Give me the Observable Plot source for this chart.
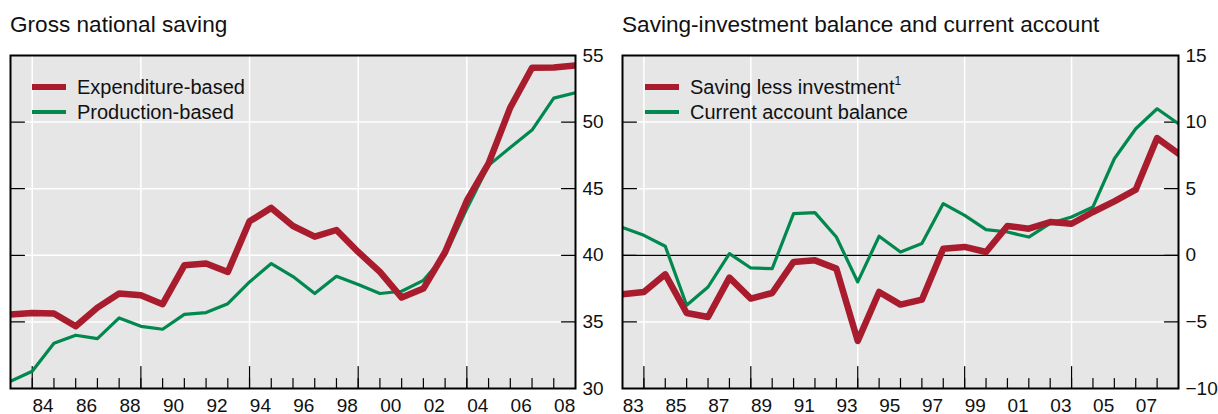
<!DOCTYPE html>
<html><head><meta charset="utf-8">
<script src="https://cdn.jsdelivr.net/npm/d3@7"></script>
<script src="https://cdn.jsdelivr.net/npm/@observablehq/plot@0.6"></script>
<style>
body{margin:0;background:#fff;font-family:"Liberation Sans",Arial,sans-serif;}
#wrap{position:relative;width:1218px;height:414px;overflow:hidden}
.panel{position:absolute;top:0;height:414px}
.title{height:44px;box-sizing:border-box;padding-top:14px;font-size:22.6px;line-height:22.6px;color:#111;white-space:nowrap}
.row{position:absolute;display:flex;align-items:center;height:20px;line-height:20px;font-size:20px;color:#111;white-space:nowrap}
.sw{width:34px;margin-right:11px}
sup{font-size:12px;line-height:0;vertical-align:9px}
svg{display:block}
</style></head>
<body>
<div id="wrap"></div>
<script>
// Annual data, 1982–2008 (plotted at year end)
const years = [1982,1983,1984,1985,1986,1987,1988,1989,1990,1991,1992,1993,1994,1995,1996,1997,1998,1999,2000,2001,2002,2003,2004,2005,2006,2007,2008];

// Left panel: Gross national saving (% of GDP)
const expenditureBased = [35.55,35.67,35.63,34.67,36.07,37.13,37.0,36.33,39.25,39.38,38.75,42.55,43.56,42.2,41.4,41.9,40.25,38.75,36.83,37.5,40.25,44.1,46.9,51.1,54.08,54.1,54.25];
const productionBased  = [30.55,31.3,33.4,34.0,33.75,35.3,34.67,34.45,35.57,35.7,36.37,38.0,39.38,38.4,37.13,38.42,37.8,37.13,37.3,38.12,40.0,43.5,46.75,48.1,49.4,51.8,52.2];

// Right panel: Saving-investment balance and current account (% of GDP)
const savingLessInvestment = [-2.93,-2.75,-1.43,-4.33,-4.63,-1.68,-3.25,-2.83,-0.5,-0.38,-1.0,-6.43,-2.75,-3.7,-3.33,0.5,0.63,0.25,2.2,2.0,2.5,2.37,3.25,4.05,4.93,8.8,7.63];
const currentAccount       = [2.08,1.5,0.68,-3.75,-2.38,0.13,-0.95,-1.0,3.13,3.2,1.37,-2.0,1.43,0.25,0.88,3.88,3.0,1.93,1.75,1.37,2.4,2.88,3.63,7.25,9.5,11.0,9.88];

// Axes
const xDomain = [1983, 2009];
const yearTicks = [1984,1985,1986,1987,1988,1989,1990,1991,1992,1993,1994,1995,1996,1997,1998,1999,2000,2001,2002,2003,2004,2005,2006,2007,2008];
const majorYearTicks = [1984,1989,1994,1999,2004];
const leftLabelYears = [1984,1986,1988,1990,1992,1994,1996,1998,2000,2002,2004,2006,2008];
const rightLabelYears = [1983,1985,1987,1989,1991,1993,1995,1997,1999,2001,2003,2005,2007];
const leftYDomain = [30, 55];
const leftYLabels = [30,35,40,45,50,55];
const leftYInner = [35,40,45,50];
const rightYDomain = [-10, 15];
const rightYLabels = [-10,-5,0,5,10,15];
const rightYInner = [-5,0,5,10];

const RED = "#a81c2e", GREEN = "#00884f";

const toRows = arr => years.map((y, i) => ({year: y, v: arr[i]}));
const tickShape = {draw(ctx, l) { ctx.moveTo(0, 0); ctx.lineTo(0, -l); }};
const fmt = d => d < 0 ? "\u2212" + Math.abs(d) : String(d);

function makePanel({series, yDomain, yLabels, yInner, labelYears, width, ml, mr, zero}) {
  const marks = [
    Plot.frame({fill: "#e6e6e6", stroke: null}),
    Plot.ruleX(majorYearTicks, {x: d => d, stroke: "white", strokeWidth: 1.5}),
    Plot.ruleY(yInner, {y: d => d, stroke: "white", strokeWidth: 1.5}),
  ];
  if (zero) marks.push(Plot.ruleY([0], {y: d => d, stroke: "black", strokeWidth: 1.2}));
  marks.push(
    Plot.vector(yearTicks, {x: d => d, frameAnchor: "bottom", length: 10, rotate: 0, anchor: "start", shape: tickShape, stroke: "black", strokeWidth: 1.2}),
    Plot.vector(majorYearTicks, {x: d => d, frameAnchor: "bottom", length: 22, rotate: 0, anchor: "start", shape: tickShape, stroke: "black", strokeWidth: 1.2}),
    Plot.vector(yInner, {y: d => d, frameAnchor: "left", length: 14, rotate: 90, anchor: "start", shape: tickShape, stroke: "black", strokeWidth: 1.2}),
    Plot.vector(yInner, {y: d => d, frameAnchor: "right", length: 14, rotate: -90, anchor: "start", shape: tickShape, stroke: "black", strokeWidth: 1.2}),
    Plot.line(toRows(series[1]), {x: d => d.year + 1, y: "v", stroke: GREEN, strokeWidth: 3.2, clip: true}),
    Plot.line(toRows(series[0]), {x: d => d.year + 1, y: "v", stroke: RED, strokeWidth: 6.5, clip: true}),
    Plot.frame({stroke: "black", strokeWidth: 2}),
    Plot.text(yLabels, {y: d => d, text: fmt, frameAnchor: "right", textAnchor: "start", dx: 7, fill: "#111"}),
    Plot.text(labelYears, {x: d => d + 0.5, text: d => String(d).slice(2), frameAnchor: "bottom", lineAnchor: "top", dy: 10, fill: "#111"})
  );
  return Plot.plot({
    width, height: 370, marginTop: 11, marginBottom: 26, marginLeft: ml, marginRight: mr,
    x: {domain: xDomain, axis: null},
    y: {domain: yDomain, axis: null},
    style: {fontFamily: "Liberation Sans, Arial, sans-serif", fontSize: "19px", background: "transparent", overflow: "visible"},
    marks
  });
}

function addPanel({left, width, titleLeft, title, legend, plot}) {
  const p = document.createElement("div");
  p.className = "panel";
  p.style.left = left + "px";
  p.style.width = width + "px";
  const t = document.createElement("div");
  t.className = "title";
  t.style.paddingLeft = titleLeft + "px";
  t.textContent = title;
  p.appendChild(t);
  p.appendChild(plot);
  legend.forEach(item => {
    const r = document.createElement("div");
    r.className = "row";
    r.style.left = item.x + "px";
    r.style.top = (item.cy - 10) + "px";
    const sw = document.createElement("div");
    sw.className = "sw";
    sw.style.height = item.h + "px";
    sw.style.background = item.color;
    const tx = document.createElement("span");
    tx.innerHTML = item.label;
    r.appendChild(sw); r.appendChild(tx);
    p.appendChild(r);
  });
  document.getElementById("wrap").appendChild(p);
}

addPanel({
  left: 0, width: 610, titleLeft: 10, title: "Gross national saving",
  legend: [
    {x: 32, cy: 87, h: 6.5, color: RED, label: "Expenditure-based"},
    {x: 32, cy: 112, h: 3.2, color: GREEN, label: "Production-based"}
  ],
  plot: makePanel({series: [expenditureBased, productionBased], yDomain: leftYDomain, yLabels: leftYLabels, yInner: leftYInner, labelYears: leftLabelYears, width: 610, ml: 10, mr: 35, zero: false})
});
addPanel({
  left: 610, width: 608, titleLeft: 12, title: "Saving-investment balance and current account",
  legend: [
    {x: 35, cy: 87, h: 6.5, color: RED, label: "Saving less investment<sup>1</sup>"},
    {x: 35, cy: 112, h: 3.2, color: GREEN, label: "Current account balance"}
  ],
  plot: makePanel({series: [savingLessInvestment, currentAccount], yDomain: rightYDomain, yLabels: rightYLabels, yInner: rightYInner, labelYears: rightLabelYears, width: 608, ml: 12, mr: 40, zero: true})
});
</script>
</body></html>
